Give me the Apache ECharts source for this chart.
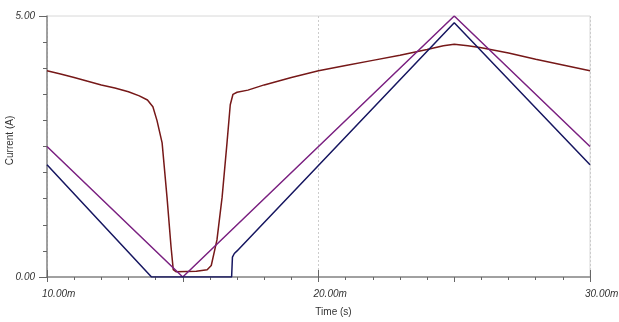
<!DOCTYPE html>
<html>
<head>
<meta charset="utf-8">
<script src="https://cdn.jsdelivr.net/npm/echarts@6/dist/echarts.min.js"></script>
<style>html,body{margin:0;padding:0;background:#fff}#c{width:619px;height:322px}</style>
</head>
<body>
<div id="c"></div>
<script>
// Time in ms, current in A
const redT = [10, 10.5, 11, 11.5, 12, 12.5, 13, 13.4, 13.7, 13.9, 14.05, 14.24, 14.42, 14.57, 14.65, 14.75, 15.5, 15.9, 16.05, 16.26, 16.45, 16.63, 16.75, 16.85, 17.0, 17.4, 18, 19, 20, 21, 22, 23, 24, 24.6, 25, 25.5, 26, 27, 28, 29, 30];
const redV = [3.95, 3.89, 3.82, 3.75, 3.68, 3.62, 3.55, 3.47, 3.39, 3.26, 3.0, 2.57, 1.53, 0.57, 0.14, 0.10, 0.11, 0.14, 0.22, 0.71, 1.53, 2.57, 3.3, 3.50, 3.54, 3.58, 3.68, 3.82, 3.95, 4.05, 4.15, 4.25, 4.36, 4.43, 4.46, 4.43, 4.39, 4.29, 4.17, 4.06, 3.95];
const purpleT = [10, 15, 25, 30];
const purpleV = [2.5, 0, 5.0, 2.5];
const navyT = [10, 13.85, 16.8, 16.83, 16.9, 17.0, 25, 30];
const navyV = [2.15, 0, 0, 0.38, 0.45, 0.5, 4.87, 2.15];
const xTicks = [10, 20, 30];
const yTicks = [0, 5];

const pairs = (t, v) => t.map((x, i) => [x, v[i]]);
const font = '"Liberation Sans", Arial, sans-serif';

const chart = echarts.init(document.getElementById('c'));
chart.setOption({
  animation: false,
  backgroundColor: '#fff',
  grid: { left: 47, right: 29, top: 16, bottom: 45, containLabel: false, outerBoundsMode: 'none',
          show: true, borderColor: '#d8d8d8', borderWidth: 1 },
  xAxis: [{
    type: 'value', min: 10, max: 30, interval: 5,
    axisLine: { show: true, onZero: false, lineStyle: { color: '#888', width: 1.5 } },
    axisTick: { show: true, length: 5, lineStyle: { color: '#666' } },
    minorTick: { show: true, splitNumber: 5, length: 3, lineStyle: { color: '#666' } },
    splitLine: { show: false },
    axisLabel: {
      formatter: v => xTicks.includes(v) ? v.toFixed(2) + 'm' : '',
      align: 'left', padding: [0, 0, 0, -5], margin: 12,
      fontSize: 10, fontStyle: 'italic', color: '#333', fontFamily: font
    },
    name: 'Time (s)', nameLocation: 'middle', nameGap: 30, nameMoveOverlap: false,
    nameTextStyle: { fontSize: 10, color: '#333', fontFamily: font, padding: [0, 0, 0, 30] }
  }, {
    type: 'value', min: 10, max: 30, interval: 10,
    axisLine: { show: false },
    axisTick: { show: true, length: 7, lineStyle: { color: '#666' } },
    axisLabel: { show: false },
    splitLine: { show: true, lineStyle: { color: '#ccc', type: [2, 2] } }
  }],
  yAxis: {
    type: 'value', min: 0, max: 5, interval: 5,
    axisLine: { show: true, lineStyle: { color: '#888', width: 1.5 } },
    axisTick: { show: true, length: 8, lineStyle: { color: '#666' } },
    minorTick: { show: true, splitNumber: 10, length: 4, lineStyle: { color: '#666' } },
    splitLine: { show: false },
    axisLabel: {
      formatter: v => yTicks.includes(v) ? v.toFixed(2) : '',
      margin: 12, fontSize: 10, fontStyle: 'italic', color: '#333', fontFamily: font
    },
    name: 'Current (A)', nameLocation: 'middle', nameRotate: 90, nameGap: 32, nameMoveOverlap: false,
    nameTextStyle: { fontSize: 10, color: '#333', fontFamily: font, padding: [0, 0, 0, 12] }
  },
  series: [
    { type: 'line', data: pairs(redT, redV), showSymbol: false, lineStyle: { color: '#761818', width: 1.5 }, z: 3 },
    { type: 'line', data: pairs(purpleT, purpleV), showSymbol: false, lineStyle: { color: '#7a2080', width: 1.5 }, z: 4 },
    { type: 'line', data: pairs(navyT, navyV), showSymbol: false, lineStyle: { color: '#161660', width: 1.5 }, z: 5 }
  ]
});
</script>
</body>
</html>
